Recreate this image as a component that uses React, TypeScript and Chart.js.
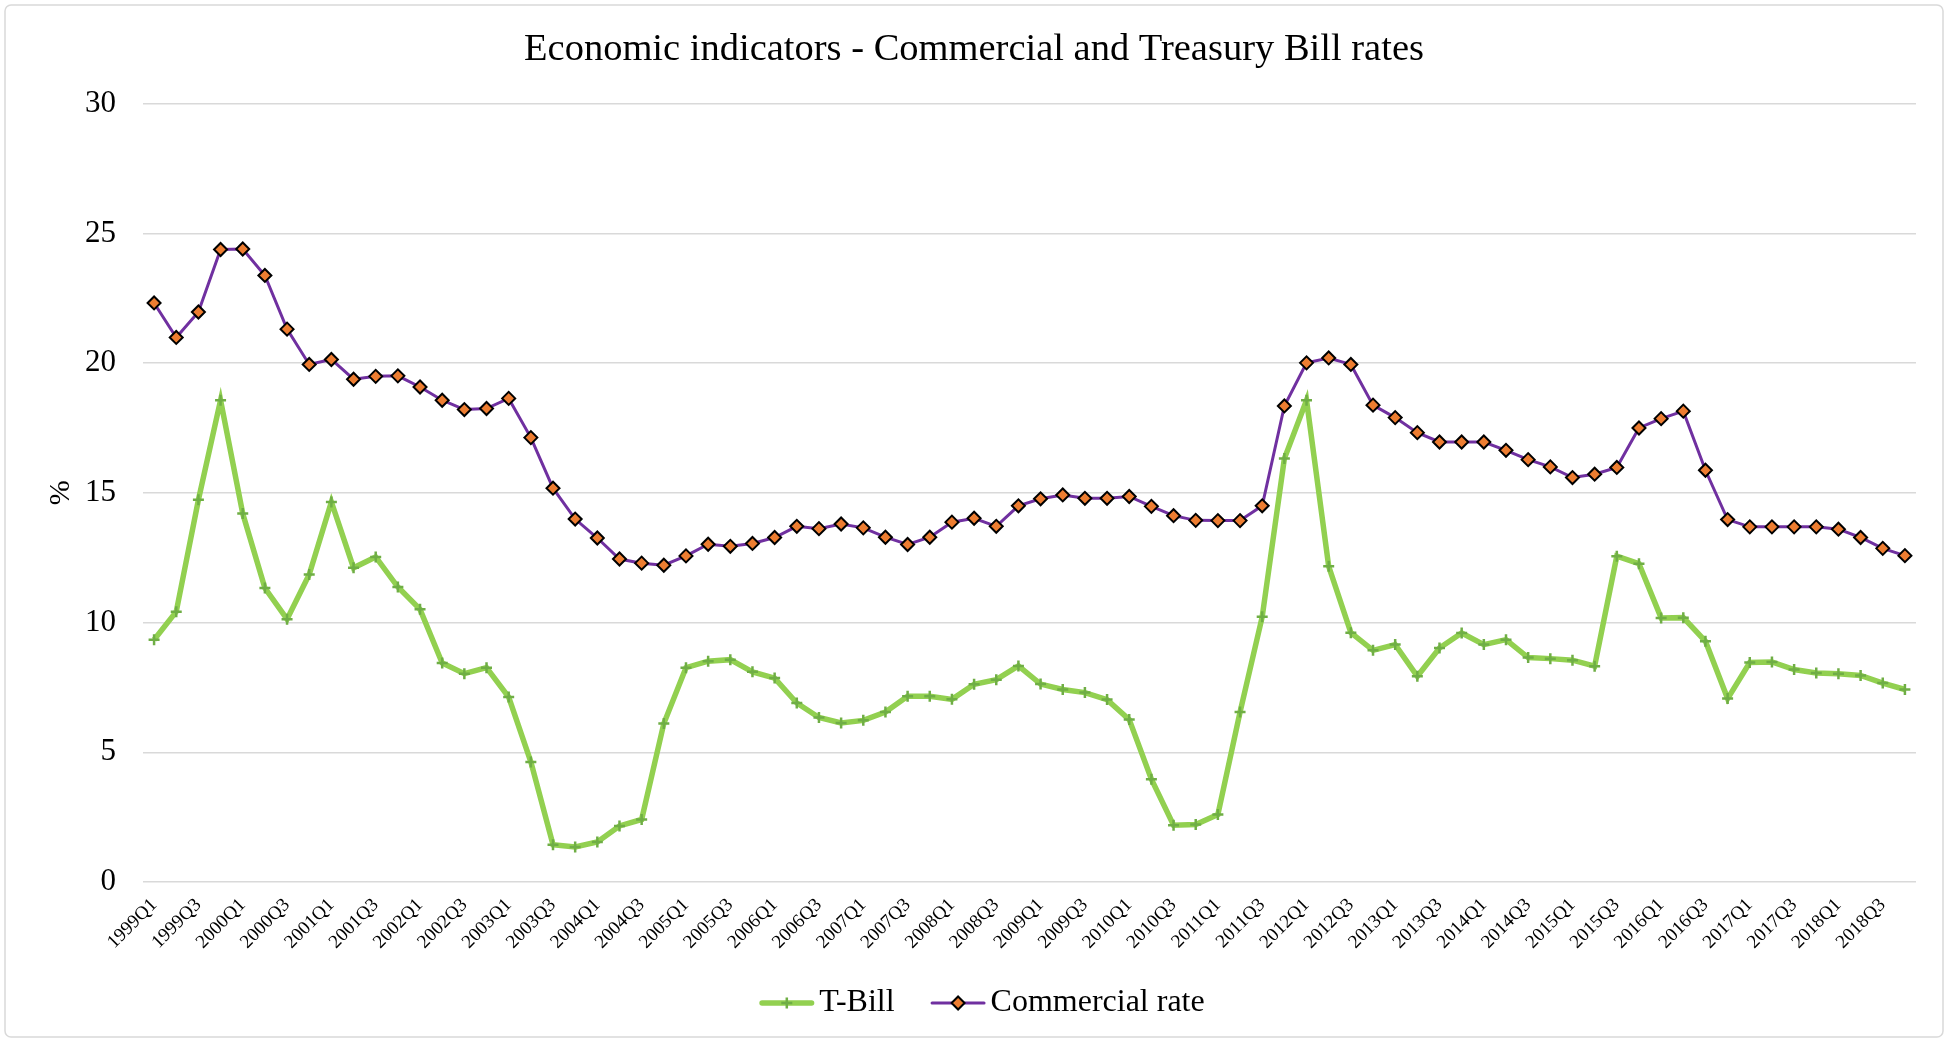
import React, { useEffect, useRef } from 'react';
import { Chart, registerables } from 'chart.js';

Chart.register(...registerables);

const TITLE = 'Economic indicators - Commercial and Treasury Bill rates';
const Y_TITLE = '%';

const QUARTERS = [
  '1999Q1', '1999Q2', '1999Q3', '1999Q4',
  '2000Q1', '2000Q2', '2000Q3', '2000Q4',
  '2001Q1', '2001Q2', '2001Q3', '2001Q4',
  '2002Q1', '2002Q2', '2002Q3', '2002Q4',
  '2003Q1', '2003Q2', '2003Q3', '2003Q4',
  '2004Q1', '2004Q2', '2004Q3', '2004Q4',
  '2005Q1', '2005Q2', '2005Q3', '2005Q4',
  '2006Q1', '2006Q2', '2006Q3', '2006Q4',
  '2007Q1', '2007Q2', '2007Q3', '2007Q4',
  '2008Q1', '2008Q2', '2008Q3', '2008Q4',
  '2009Q1', '2009Q2', '2009Q3', '2009Q4',
  '2010Q1', '2010Q2', '2010Q3', '2010Q4',
  '2011Q1', '2011Q2', '2011Q3', '2011Q4',
  '2012Q1', '2012Q2', '2012Q3', '2012Q4',
  '2013Q1', '2013Q2', '2013Q3', '2013Q4',
  '2014Q1', '2014Q2', '2014Q3', '2014Q4',
  '2015Q1', '2015Q2', '2015Q3', '2015Q4',
  '2016Q1', '2016Q2', '2016Q3', '2016Q4',
  '2017Q1', '2017Q2', '2017Q3', '2017Q4',
  '2018Q1', '2018Q2', '2018Q3', '2018Q4',
];

const T_BILL = [
  9.34, 10.42, 14.73, 18.57, 14.2, 11.33, 10.13, 11.85,
  14.65, 12.11, 12.53, 11.37, 10.51, 8.44, 8.03, 8.26,
  7.13, 4.63, 1.44, 1.35, 1.54, 2.16, 2.41, 6.11,
  8.26, 8.51, 8.57, 8.1, 7.86, 6.9, 6.34, 6.13,
  6.23, 6.55, 7.16, 7.16, 7.04, 7.62, 7.8, 8.33,
  7.63, 7.42, 7.3, 7.03, 6.26, 3.96, 2.19, 2.22,
  2.6, 6.55, 10.22, 16.32, 18.57, 12.17, 9.61, 8.93,
  9.15, 7.93, 9.02, 9.6, 9.15, 9.34, 8.65, 8.61,
  8.55, 8.32, 12.56, 12.27, 10.18, 10.19, 9.28, 7.07,
  8.46, 8.48, 8.19, 8.06, 8.03, 7.96, 7.67, 7.42,
];

const COMMERCIAL_RATE = [
  22.32, 20.99, 21.97, 24.38, 24.4, 23.38, 21.31, 19.95,
  20.14, 19.38, 19.49, 19.51, 19.08, 18.57, 18.21, 18.25,
  18.64, 17.13, 15.18, 13.99, 13.26, 12.45, 12.29, 12.21,
  12.57, 13.02, 12.94, 13.05, 13.28, 13.71, 13.62, 13.8,
  13.65, 13.29, 13.01, 13.29, 13.87, 14.02, 13.71, 14.5,
  14.77, 14.92, 14.79, 14.79, 14.86, 14.48, 14.12, 13.94,
  13.93, 13.93, 14.5, 18.35, 20.01, 20.2, 19.95, 18.38,
  17.9, 17.32, 16.96, 16.96, 16.96, 16.64, 16.28, 16.0,
  15.59, 15.72, 15.98, 17.5, 17.86, 18.15, 15.87, 13.97,
  13.69, 13.69, 13.69, 13.69, 13.6, 13.28, 12.86, 12.58,
];

const SERIES_NAMES = ['T-Bill', 'Commercial rate'];

const Y_MIN = 0;
const Y_MAX = 30;
const Y_STEP = 5;

const FONT = '"Liberation Serif", "Times New Roman", serif';

const TBILL_LINE = '#92D050';
const TBILL_MARK = '#6FAE45';
const COMM_LINE = '#7030A0';
const COMM_FILL = '#ED7D31';

const frameAndLegend = {
  id: 'frameAndLegend',
  beforeDraw(chart: any) {
    const ctx = chart.ctx;
    ctx.save();
    ctx.fillStyle = '#ffffff';
    ctx.fillRect(0, 0, chart.width, chart.height);
    ctx.strokeStyle = '#D9D9D9';
    ctx.lineWidth = 1.5;
    ctx.beginPath();
    if ((ctx as any).roundRect) {
      (ctx as any).roundRect(5, 5, chart.width - 10, chart.height - 9, 6);
    } else {
      ctx.rect(5, 5, chart.width - 10, chart.height - 9);
    }
    ctx.stroke();
    ctx.restore();
  },
  afterDraw(chart: any) {
    const ctx = chart.ctx;
    ctx.save();
    ctx.font = `32px ${FONT}`;
    ctx.textBaseline = 'middle';
    const y = 1003;
    const sampleW = 55;
    const gapText = 5;
    const gapItem = 36;
    const widths = SERIES_NAMES.map((n) => ctx.measureText(n).width);
    const total = widths.reduce((a, w) => a + sampleW + gapText + w, 0) + gapItem * (SERIES_NAMES.length - 1);
    let x = chart.width / 2 + 8 - total / 2;
    SERIES_NAMES.forEach((name, i) => {
      const ds = chart.data.datasets[i];
      ctx.strokeStyle = ds.borderColor;
      ctx.lineWidth = ds.borderWidth;
      ctx.lineCap = 'round';
      ctx.beginPath();
      ctx.moveTo(x + ds.borderWidth / 2, y);
      ctx.lineTo(x + sampleW - ds.borderWidth / 2, y);
      ctx.stroke();
      const cx = x + sampleW / 2;
      if (ds.pointStyle === 'cross') {
        const r = ds.pointRadius;
        ctx.strokeStyle = ds.pointBorderColor;
        ctx.lineWidth = ds.pointBorderWidth;
        ctx.lineCap = 'butt';
        ctx.beginPath();
        ctx.moveTo(cx - r, y);
        ctx.lineTo(cx + r, y);
        ctx.moveTo(cx, y - r);
        ctx.lineTo(cx, y + r);
        ctx.stroke();
      } else {
        const r = ds.pointRadius;
        ctx.fillStyle = ds.pointBackgroundColor;
        ctx.strokeStyle = ds.pointBorderColor;
        ctx.lineWidth = ds.pointBorderWidth;
        ctx.beginPath();
        ctx.moveTo(cx, y - r);
        ctx.lineTo(cx + r, y);
        ctx.lineTo(cx, y + r);
        ctx.lineTo(cx - r, y);
        ctx.closePath();
        ctx.fill();
        ctx.stroke();
      }
      ctx.fillStyle = '#000000';
      ctx.textAlign = 'left';
      ctx.fillText(name, x + sampleW + gapText, y);
      x += sampleW + gapText + widths[i] + gapItem;
    });
    ctx.restore();
  },
};

export default function App() {
  const ref = useRef<HTMLCanvasElement>(null);

  useEffect(() => {
    document.body.style.margin = '0';
    document.body.style.overflow = 'hidden';
    const canvas = ref.current;
    if (!canvas) return;
    const chart = new Chart(canvas, {
      type: 'line',
      data: {
        labels: QUARTERS,
        datasets: [
          {
            label: SERIES_NAMES[0],
            data: T_BILL,
            borderColor: TBILL_LINE,
            backgroundColor: TBILL_LINE,
            borderWidth: 5.5,
            tension: 0,
            pointStyle: 'cross',
            pointRadius: 5.5,
            pointBorderColor: TBILL_MARK,
            pointBackgroundColor: TBILL_MARK,
            pointBorderWidth: 2.5,
            order: 1,
          } as any,
          {
            label: SERIES_NAMES[1],
            data: COMMERCIAL_RATE,
            borderColor: COMM_LINE,
            backgroundColor: COMM_FILL,
            borderWidth: 3,
            tension: 0,
            pointStyle: 'rectRot',
            pointRadius: 6.5,
            pointBackgroundColor: COMM_FILL,
            pointBorderColor: '#000000',
            pointBorderWidth: 2,
            order: 0,
          } as any,
        ],
      },
      options: {
        responsive: false,
        animation: false,
        devicePixelRatio: 1,
        layout: {
          padding: { left: 32, right: 32, top: 0, bottom: 69 },
        },
        plugins: {
          legend: { display: false },
          tooltip: { enabled: false },
          title: {
            display: true,
            text: TITLE,
            color: '#000000',
            font: { family: FONT, size: 38.5, weight: 'normal' },
            padding: { top: 27, bottom: 30.5 },
          },
        },
        scales: {
          x: {
            type: 'category',
            offset: true,
            grid: { display: false, drawTicks: false },
            border: { display: false },
            ticks: {
              autoSkip: false,
              maxRotation: 45,
              minRotation: 45,
              padding: 12,
              color: '#000000',
              font: { family: FONT, size: 19 },
              callback: (_v: any, i: number) => (i % 2 === 0 ? QUARTERS[i] : ''),
            },
            afterFit: (scale: any) => {
              scale.height = 90;
            },
          },
          y: {
            min: Y_MIN,
            max: Y_MAX,
            grid: { color: '#D9D9D9', lineWidth: 1.5, drawTicks: false },
            border: { display: false },
            ticks: {
              stepSize: Y_STEP,
              padding: 27,
              color: '#000000',
              font: { family: FONT, size: 31 },
            },
            title: {
              display: true,
              text: Y_TITLE,
              color: '#000000',
              font: { family: FONT, size: 30 },
              padding: { top: 11, bottom: 0 },
            },
            afterFit: (scale: any) => {
              scale.width = 111;
            },
          },
        },
      },
      plugins: [frameAndLegend],
    });
    return () => chart.destroy();
  }, []);

  return (
    <div style={{ width: 1948, height: 1041, position: 'relative' }}>
      <canvas ref={ref} width={1948} height={1041} style={{ display: 'block' }} />
    </div>
  );
}
